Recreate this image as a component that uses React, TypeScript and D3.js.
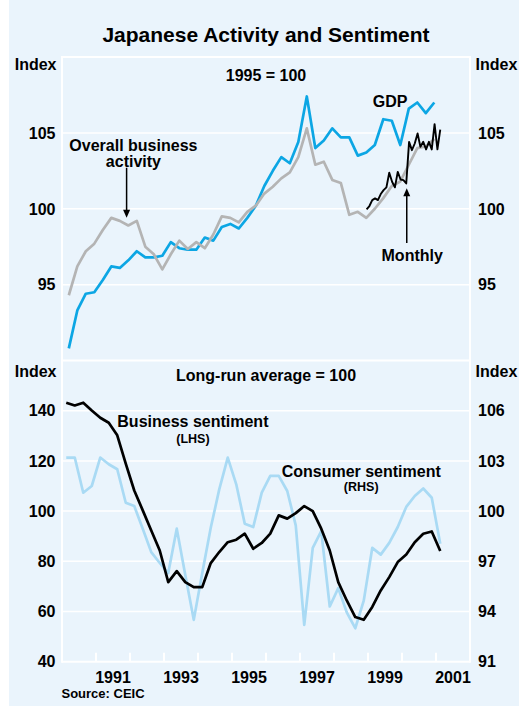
import { useEffect, useRef } from "react";
import { select, scaleLinear, line, range } from "d3";

const WIDTH = 519;
const HEIGHT = 706;
const PLOT = { left: 62, right: 470, top: 57, mid: 360.5, bottom: 661.7 };

const BG = "#eaf4fc";
const GDP_BLUE = "#0ca6e4";
const GREY = "#b4b4b4";
const LIGHT_BLUE = "#a9daf4";
const FONT = "'Liberation Sans', Arial, Helvetica, sans-serif";
const LABEL = 16;

// quarterly, 1990 Q1 - 2000 Q4 (1995 = 100)
const gdp = [
  90.8, 93.3, 94.4, 94.5, 95.3, 96.2, 96.1, 96.6, 97.2, 96.8, 96.8, 96.9,
  97.8, 97.4, 97.3, 97.3, 98.1, 97.9, 98.8, 99.0, 98.7, 99.4, 100.2, 101.5,
  102.5, 103.4, 103.0, 104.4, 107.4, 104.0, 104.5, 105.3, 104.7, 104.7, 103.5, 103.7,
  104.2, 105.9, 105.8, 104.2, 106.6, 107.0, 106.3, 107.0,
];
const overallActivity = [
  94.3, 96.2, 97.2, 97.7, 98.6, 99.4, 99.2, 98.9, 99.2, 97.5, 97.0, 96.0,
  97.0, 97.9, 97.35, 97.8, 97.4, 98.3, 99.5, 99.4, 99.1, 99.8, 100.2, 101.0,
  101.45, 102.0, 102.4, 103.4, 105.3, 102.9, 103.1, 101.9, 101.7, 99.6, 99.8, 99.4,
  100.0, 100.7, 101.5, 101.8, 102.9, 104.0, 104.1, 104.6,
];
// monthly, Dec 1998 - Feb 2001
const monthlyActivity = [
  99.96, 100.18, 100.57, 100.68, 100.57, 100.97, 101.23, 101.41, 102.37, 101.78,
  101.41, 102.43, 101.93, 101.89, 101.67, 104.41, 103.86, 104.3, 104.96, 104.08,
  104.41, 103.91, 104.41, 103.91, 105.57, 103.91, 105.22,
];
// quarterly, 1990 Q1 - 2001 Q1 (long-run average = 100)
const businessSentiment = [
  143.2, 142.1, 143.2, 140.1, 137.2, 135.2, 130.2, 118.9, 108.2, 100.3, 92.3, 84.3,
  71.7, 76.1, 71.7, 69.7, 69.7, 79.3, 83.7, 87.6, 88.6, 91.0, 85.0, 87.3,
  91.0, 98.3, 97.0, 99.2, 102.0, 100.0, 93.0, 84.3, 71.7, 64.4, 57.8, 56.7,
  61.8, 68.4, 73.7, 79.7, 82.7, 87.6, 91.0, 91.9, 84.1,
];
const consumerSentiment = [
  103.2, 103.2, 101.1, 101.5, 103.2, 102.8, 102.5, 100.5, 100.3, 98.95, 97.55, 96.9,
  96.3, 98.95, 96.2, 93.5, 96.3, 99.0, 101.3, 103.2, 101.6, 99.25, 99.05, 101.1,
  102.1, 102.1, 101.2, 99.15, 93.2, 97.8, 98.8, 94.3, 95.4, 93.95, 93.0, 94.65,
  97.8, 97.4, 98.1, 99.05, 100.25, 100.9, 101.35, 100.8, 98.05,
];

const topTicks = [95, 100, 105];
const lhsTicks = [40, 60, 80, 100, 120, 140];
const rhsTicks = [91, 94, 97, 100, 103, 106];
const yearLabels = [1991, 1993, 1995, 1997, 1999, 2001];
const yearTicks = range(1991, 2002);

export default function App() {
  const svgRef = useRef<SVGSVGElement>(null);

  useEffect(() => {
    const svg = select(svgRef.current);
    svg.selectAll("*").remove();

    const x = scaleLinear().domain([1990, 2002]).range([PLOT.left, PLOT.right]);
    const yTop = scaleLinear().domain([90, 110]).range([PLOT.mid, PLOT.top]);
    const yLhs = scaleLinear().domain([40, 160]).range([PLOT.bottom, PLOT.mid]);
    const yRhs = scaleLinear().domain([91, 109]).range([PLOT.bottom, PLOT.mid]);

    // background
    svg.append("rect").attr("width", WIDTH).attr("height", HEIGHT).attr("fill", "#ffffff");
    svg.append("rect").attr("x", 9).attr("width", WIDTH - 9).attr("height", HEIGHT).attr("fill", BG);

    const txt = (
      tx: number,
      ty: number,
      s: string,
      size: number,
      anchor = "middle",
      dy = "0"
    ) =>
      svg
        .append("text")
        .attr("x", tx)
        .attr("y", ty)
        .attr("dy", dy)
        .attr("text-anchor", anchor)
        .attr("font-family", FONT)
        .attr("font-weight", "bold")
        .attr("font-size", `${size}px`)
        .attr("fill", "#000000")
        .text(s);

    // grid lines
    const grid = svg.append("g").attr("stroke", "#ffffff").attr("stroke-width", 1.5);
    topTicks.forEach((v) => {
      grid.append("line").attr("x1", PLOT.left).attr("x2", PLOT.right).attr("y1", yTop(v)).attr("y2", yTop(v));
    });
    lhsTicks.slice(1).forEach((v) => {
      grid.append("line").attr("x1", PLOT.left).attr("x2", PLOT.right).attr("y1", yLhs(v)).attr("y2", yLhs(v));
    });

    // panel borders
    const border = svg.append("g").attr("stroke", "#ffffff").attr("stroke-width", 2);
    [PLOT.top, PLOT.mid, PLOT.bottom].forEach((yy) => {
      border.append("line").attr("x1", PLOT.left).attr("x2", PLOT.right).attr("y1", yy).attr("y2", yy);
    });
    [PLOT.left, PLOT.right].forEach((xx) => {
      border.append("line").attr("x1", xx).attr("x2", xx).attr("y1", PLOT.top - 1).attr("y2", PLOT.bottom + 1);
    });
    yearTicks.forEach((yr) => {
      border
        .append("line")
        .attr("x1", x(yr))
        .attr("x2", x(yr))
        .attr("y1", PLOT.bottom)
        .attr("y2", PLOT.bottom - 9);
    });

    // series
    const drawLine = (
      data: number[],
      start: number,
      step: number,
      yScale: (v: number) => number,
      color: string,
      width: number
    ) => {
      const path = line<number>()
        .x((_, i) => x(start + i * step))
        .y((d) => yScale(d));
      svg
        .append("path")
        .attr("d", path(data))
        .attr("fill", "none")
        .attr("stroke", color)
        .attr("stroke-width", width)
        .attr("stroke-linejoin", "round");
    };

    drawLine(gdp, 1990.2, 0.25, yTop, GDP_BLUE, 2.7);
    drawLine(overallActivity, 1990.2, 0.25, yTop, GREY, 2.7);
    drawLine(monthlyActivity, 1998 + 11.5 / 12, 1 / 12, yTop, "#000000", 1.9);
    drawLine(consumerSentiment, 1990.125, 0.25, yRhs, LIGHT_BLUE, 2.7);
    drawLine(businessSentiment, 1990.125, 0.25, yLhs, "#000000", 2.7);

    // title
    txt(266, 42, "Japanese Activity and Sentiment", 21);

    // axis labels
    txt(56.5, 69.5, "Index", LABEL, "end");
    txt(475.5, 69.5, "Index", LABEL, "start");
    txt(56.5, 377, "Index", LABEL, "end");
    txt(475.5, 377, "Index", LABEL, "start");

    topTicks.forEach((v) => {
      txt(55.5, yTop(v), String(v), LABEL, "end", "0.36em");
      txt(478, yTop(v), String(v), LABEL, "start", "0.36em");
    });
    lhsTicks.forEach((v) => txt(55.5, yLhs(v), String(v), LABEL, "end", "0.36em"));
    rhsTicks.forEach((v) => txt(478, yRhs(v), String(v), LABEL, "start", "0.36em"));
    yearLabels.forEach((yr) => txt(x(yr + 0.5), 683, String(yr), LABEL));

    txt(61.5, 698, "Source: CEIC", 13, "start");

    // panel notes
    txt(266, 80.5, "1995 = 100", LABEL);
    txt(266, 380.5, "Long-run average = 100", LABEL);

    // annotations
    txt(x(1992.1), 150.5, "Overall business", LABEL);
    txt(x(1992.1), 166.5, "activity", LABEL);
    txt(x(1999.65), 107, "GDP", LABEL);
    txt(x(2000.3), 260.5, "Monthly", LABEL);
    txt(x(1993.85), 427, "Business sentiment", LABEL);
    txt(x(1993.85), 443, "(LHS)", 12.5);
    txt(x(1998.8), 477, "Consumer sentiment", LABEL);
    txt(x(1998.8), 491, "(RHS)", 12.5);

    const arrow = (ax: number, fromY: number, toY: number) => {
      const dir = toY > fromY ? 1 : -1;
      svg
        .append("line")
        .attr("x1", ax)
        .attr("x2", ax)
        .attr("y1", fromY)
        .attr("y2", toY - dir * 6)
        .attr("stroke", "#000000")
        .attr("stroke-width", 1.5);
      svg
        .append("path")
        .attr("d", `M${ax},${toY} L${ax - 3.5},${toY - dir * 8} L${ax + 3.5},${toY - dir * 8} Z`)
        .attr("fill", "#000000");
    };
    arrow(x(1991.9), yTop(102.7), yTop(99.4));
    arrow(x(2000.14), yTop(97.75), yTop(101.35));
  }, []);

  return (
    <svg
      ref={svgRef}
      width={WIDTH}
      height={HEIGHT}
      style={{ position: "absolute", left: 0, top: 0, display: "block" }}
    />
  );
}
